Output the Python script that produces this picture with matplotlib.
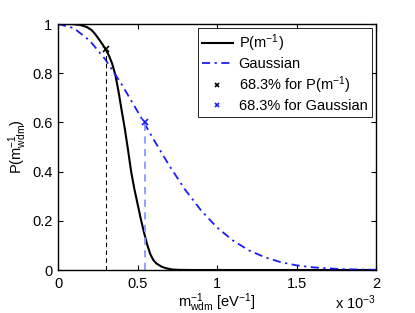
import matplotlib
matplotlib.use("Agg")
import matplotlib.pyplot as plt

plt.rcParams['font.family'] = ['Liberation Sans', 'DejaVu Sans']
plt.rcParams['mathtext.fontset'] = 'custom'
plt.rcParams['mathtext.rm'] = 'Liberation Sans'
plt.rcParams['mathtext.it'] = 'Liberation Sans:italic'
plt.rcParams['mathtext.sf'] = 'Liberation Sans'

# x in units of 1e-3 eV^-1
x_p = [0, 0.05, 0.10, 0.14, 0.18, 0.21, 0.23, 0.25, 0.28, 0.30, 0.32, 0.34, 0.36, 0.38, 0.40,
       0.42, 0.44, 0.46, 0.48, 0.50, 0.52, 0.54, 0.56, 0.58, 0.60, 0.62, 0.65, 0.68,
       0.72, 0.76, 0.85, 1.0, 1.5, 2.0]
y_p = [1.0, 1.0, 0.999, 0.996, 0.988, 0.976, 0.962, 0.945, 0.917, 0.897, 0.872, 0.84, 0.795, 0.728, 0.65,
       0.575, 0.49, 0.40, 0.33, 0.27, 0.21, 0.155, 0.105, 0.065, 0.040, 0.026, 0.014, 0.007,
       0.002, 0.0005, 0.0, 0.0, 0.0, 0.0]

x_g = [0, 0.1, 0.2, 0.3, 0.4, 0.5, 0.6, 0.7, 0.8, 0.9, 1.0, 1.1, 1.2, 1.3, 1.4, 1.5,
       1.6, 1.7, 1.8, 1.9, 2.0]
y_g = [1.0, 0.983, 0.932, 0.854, 0.755, 0.645, 0.532, 0.424, 0.326, 0.242, 0.173, 0.120,
       0.080, 0.052, 0.032, 0.019, 0.011, 0.0063, 0.0034, 0.0018, 0.0009]

x_conf_p = 0.303
y_conf_p = 0.897
x_conf_g = 0.545
y_conf_g = 0.603

xticks = [0, 0.5, 1, 1.5, 2]
xticklabels = ['0', '0.5', '1', '1.5', '2']
yticks = [0, 0.2, 0.4, 0.6, 0.8, 1]
yticklabels = ['0', '0.2', '0.4', '0.6', '0.8', '1']

fig = plt.figure(figsize=(4.15, 3.13), dpi=100)
ax = fig.add_axes([58/415, 1 - 270/313, (376-58)/415, (270-24)/313])

blue = '#1a1aff'
ax.plot(x_p, y_p, color='black', lw=1.5, label=r'P(m$^{\mathregular{-1}}$)')
ax.plot(x_g, y_g, color=blue, lw=1.3, linestyle=(0, (4.5, 2.5, 1.2, 2.5)), label='Gaussian')
ax.plot([x_conf_p, x_conf_p], [0, y_conf_p], color='black', lw=0.8, linestyle=(0, (4, 3)))
ax.plot([x_conf_g, x_conf_g], [0, y_conf_g], color='#8899ff', lw=1.3, linestyle=(0, (4, 3)))
ax.plot([x_conf_p], [y_conf_p], 'x', color='black', ms=4, mew=1.2, ls='none',
        label=r'68.3% for P(m$^{\mathregular{-1}}$)')
ax.plot([x_conf_g], [y_conf_g], 'x', color=blue, ms=4, mew=1.2, ls='none',
        label='68.3% for Gaussian')

ax.set_xlim(0, 2)
ax.set_ylim(0, 1)
ax.set_xticks(xticks)
ax.set_xticklabels(xticklabels)
ax.set_yticks(yticks)
ax.set_yticklabels(yticklabels)
ax.tick_params(direction='in', top=True, right=True, length=3.5, width=0.8, labelsize=10.5, pad=5)
ax.tick_params(axis='y', pad=4)
for s in ax.spines.values():
    s.set_linewidth(1.0)

ax.set_ylabel(r'P(m$^{\mathregular{-1}}_{\mathregular{wdm}}$)', fontsize=10.5, labelpad=2)
ax.set_xlabel(r'm$^{\mathregular{-1}}_{\mathregular{wdm}}$ [eV$^{\mathregular{-1}}$]', fontsize=10.5, labelpad=0)
fig.text(376/415, 1 - 309/313, r'x 10$^{\mathregular{-3}}$', ha='right', va='baseline', fontsize=10.5)

leg = ax.legend(loc='upper right', fontsize=10.5, frameon=True, fancybox=False,
                edgecolor='black', framealpha=1, handlelength=2.1, handletextpad=0.4,
                labelspacing=0.2, borderpad=0.3, borderaxespad=0.3, markerscale=0.8)
leg.get_frame().set_linewidth(0.6)

fig.savefig('out.png', dpi=100)
